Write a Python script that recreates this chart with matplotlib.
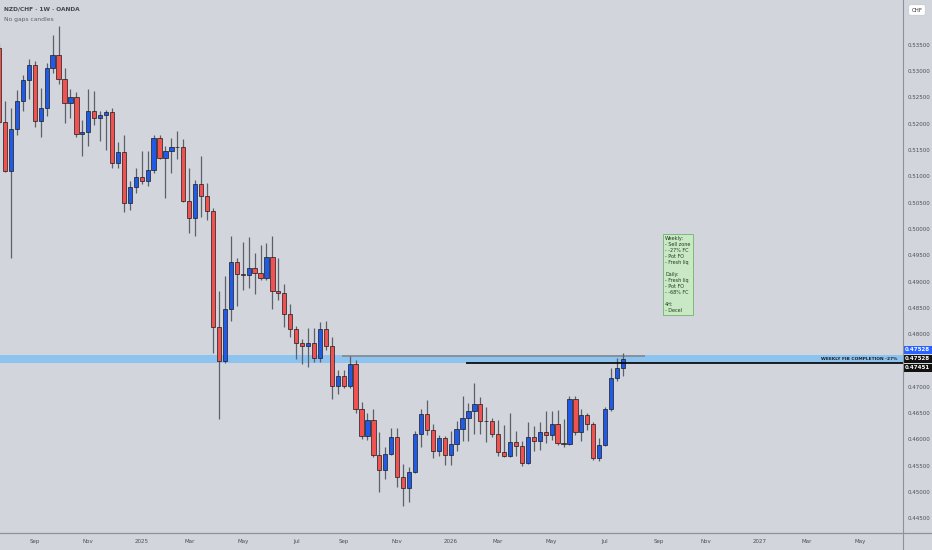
import matplotlib
matplotlib.use('Agg')
import matplotlib.pyplot as plt
import matplotlib.dates as mdates
import matplotlib.transforms as mtrans
from matplotlib.lines import Line2D
import numpy as np
import pandas as pd

# weekly NZD/CHF candles, first bar week of 2024-07-22
first_week = '2024-07-22'
opens = [
    .5343, .5204, .5111, .5190, .5243, .5284, .5312, .5206, .5229, .5305,
    .5330, .5285, .5239, .5250, .5180, .5185, .5224, .5211, .5217, .5222,
    .5125, .5146, .5050, .5080, .5098, .5091, .5112, .5173, .5135, .5149,
    .5156, .5155, .5054, .5020, .5085, .5062, .5035, .4814, .4748, .4848,
    .4938, .4914, .4913, .4926, .4916, .4906, .4946, .4882, .4878, .4839,
    .4810, .4783, .4778, .4783, .4755, .4810, .4777, .4702, .4720, .4702,
    .4744, .4658, .4607, .4637, .4571, .4541, .4572, .4605, .4529, .4508,
    .4537, .4611, .4648, .4617, .4578, .4602, .4570, .4591, .4619, .4640,
    .4653, .4667, .4635, .4634, .4611, .4576, .4568, .4594, .4588, .4555,
    .4605, .4597, .4613, .4609, .4630, .4593, .4591, .4676, .4613, .4646,
    .4629, .4565, .4589, .4658, .4716, .4736]
highs = [
    .5351, .5243, .5230, .5264, .5292, .5323, .5320, .5268, .5315, .5369,
    .5385, .5305, .5266, .5261, .5207, .5266, .5262, .5224, .5227, .5230,
    .5165, .5178, .5091, .5115, .5149, .5148, .5178, .5178, .5157, .5172,
    .5187, .5170, .5116, .5093, .5139, .5087, .5040, .4882, .4910, .4986,
    .4945, .4975, .4985, .4955, .4969, .4973, .4986, .4945, .4896, .4857,
    .4816, .4791, .4811, .4811, .4823, .4825, .4795, .4731, .4731, .4759,
    .4751, .4670, .4650, .4657, .4613, .4586, .4622, .4621, .4554, .4548,
    .4615, .4657, .4674, .4629, .4609, .4607, .4615, .4635, .4682, .4669,
    .4708, .4681, .4661, .4640, .4637, .4627, .4650, .4616, .4596, .4633,
    .4625, .4633, .4653, .4654, .4656, .4639, .4683, .4683, .4657, .4650,
    .4633, .4602, .4662, .4736, .4754, .4764]
lows = [
    .5200, .5109, .4944, .5178, .5224, .5247, .5194, .5175, .5214, .5297,
    .5275, .5201, .5211, .5175, .5139, .5157, .5198, .5167, .5150, .5115,
    .5115, .5033, .5036, .5069, .5085, .5082, .5107, .5132, .5058, .5106,
    .5132, .5052, .4992, .4987, .5023, .5017, .4765, .4638, .4745, .4824,
    .4853, .4884, .4888, .4876, .4903, .4902, .4848, .4865, .4814, .4795,
    .4753, .4743, .4737, .4747, .4747, .4770, .4676, .4686, .4697, .4697,
    .4650, .4600, .4599, .4567, .4500, .4524, .4571, .4510, .4474, .4480,
    .4536, .4586, .4609, .4564, .4568, .4552, .4552, .4578, .4596, .4596,
    .4611, .4610, .4594, .4605, .4568, .4566, .4566, .4568, .4550, .4554,
    .4578, .4580, .4593, .4599, .4589, .4586, .4589, .4609, .4596, .4617,
    .4560, .4558, .4588, .4653, .4710, .4720]
closes = [
    .5204, .5111, .5190, .5243, .5284, .5312, .5206, .5229, .5305, .5330,
    .5285, .5239, .5250, .5180, .5185, .5224, .5211, .5217, .5222, .5125,
    .5146, .5050, .5080, .5098, .5091, .5112, .5173, .5135, .5149, .5156,
    .5155, .5054, .5020, .5085, .5062, .5035, .4814, .4748, .4848, .4938,
    .4914, .4913, .4926, .4916, .4906, .4946, .4882, .4878, .4839, .4810,
    .4783, .4778, .4783, .4755, .4810, .4777, .4702, .4720, .4702, .4744,
    .4658, .4607, .4637, .4571, .4541, .4572, .4605, .4529, .4508, .4537,
    .4611, .4648, .4617, .4578, .4602, .4570, .4591, .4619, .4640, .4653,
    .4667, .4635, .4634, .4611, .4576, .4568, .4594, .4588, .4555, .4605,
    .4597, .4613, .4609, .4630, .4593, .4591, .4676, .4613, .4646, .4629,
    .4565, .4589, .4658, .4716, .4736, .4753]

# drawings
zone_low, zone_high = 0.4746, 0.4760
zone_text = 'WEEKLY FIB COMPLETION -27%'
gray_level, gray_from, gray_to = 0.4759, '2025-08-30', '2026-08-22'
black_level, black_from = 0.47451, '2026-01-23'
last_price = 0.47528
note = ("Weekly:\n- Sell zone\n- -27% FC\n- Pot FO\n- Fresh liq\n\n"
        "Daily:\n- Fresh liq\n- Pot FO\n- -68% FC\n\n4H:\n- Decel")

month_ticks = ['2024-09', '2024-11', '2025-01', '2025-03', '2025-05', '2025-07',
               '2025-09', '2025-11', '2026-01', '2026-03', '2026-05', '2026-07',
               '2026-09', '2026-11', '2027-01', '2027-03', '2027-05']
month_labels = ['Sep', 'Nov', '2025', 'Mar', 'May', 'Jul', 'Sep', 'Nov', '2026',
                'Mar', 'May', 'Jul', 'Sep', 'Nov', '2027', 'Mar', 'May']
price_ticks = [0.445, 0.450, 0.455, 0.460, 0.465, 0.470, 0.480, 0.485, 0.490,
               0.495, 0.500, 0.505, 0.510, 0.515, 0.520, 0.525, 0.530, 0.535]

bg = '#d2d5dc'
up_col = '#1f5be6'
dn_col = '#f05252'
txt_col = '#4a4e59'

o = np.array(opens)
h = np.array(highs)
l = np.array(lows)
c = np.array(closes)
x = mdates.date2num(pd.date_range(first_week, periods=len(c), freq='7D'))

fig = plt.figure(figsize=(9.32, 5.5), dpi=100, facecolor=bg)
ax = fig.add_axes([0, 17 / 550, 903 / 932, 533 / 550])
ax.set_facecolor(bg)

ax.axhspan(zone_low, zone_high, color='#8dc3ef', lw=0, zorder=1)
ax.hlines(gray_level, mdates.datestr2num(gray_from), mdates.datestr2num(gray_to),
          color='#86909a', lw=1.4, zorder=1.5)

ax.vlines(x, l, h, color='#5c606b', lw=0.9, zorder=2)
up = c >= o
ax.bar(x, np.abs(c - o), width=5, bottom=np.minimum(o, c),
       color=np.where(up, up_col, dn_col), edgecolor='#1b1b1b', linewidth=0.5, zorder=3)

xmin = mdates.datestr2num('2024-07-23')
xmax = mdates.datestr2num('2027-06-22')
ax.hlines(black_level, mdates.datestr2num(black_from), xmax, color='black', lw=1.2, zorder=4)

ax.set_xlim(xmin, xmax)
ax.set_ylim(0.44219, 0.54352)

both = mtrans.blended_transform_factory(ax.transAxes, ax.transData)
ax.text(0.9935, (zone_low + zone_high) / 2, zone_text, transform=both, ha='right',
        va='center', fontsize=3.2, fontweight='bold', color='#1c2030', zorder=5)

ax.text(665 / 903, 1 - 236 / 533, note, transform=ax.transAxes, ha='left', va='top',
        fontsize=3.5, linespacing=1.25, color='#1f3a1f', zorder=6,
        bbox=dict(boxstyle='square,pad=0.5', fc='#c9e8c4', ec='#6fb36f', lw=0.6))

# axes
tick_pos = []
for m in month_ticks:
    ts = pd.Timestamp(m)
    tick_pos.append(mdates.date2num(ts + pd.Timedelta(days=(7 - ts.weekday()) % 7)))
ax.set_xticks(tick_pos)
ax.set_xticklabels(month_labels)
ax.yaxis.tick_right()
ax.set_yticks(price_ticks)
ax.set_yticklabels(['%.5f' % p for p in price_ticks])
ax.tick_params(axis='x', length=0, pad=4.5, labelsize=4, labelcolor=txt_col)
ax.tick_params(axis='y', length=0, pad=3, labelsize=4, labelcolor=txt_col)
for s in ax.spines.values():
    s.set_visible(False)
ax.grid(False)

fig.add_artist(Line2D([903 / 932, 903 / 932], [0, 1], transform=fig.transFigure,
                      color='#8e929b', lw=0.8))
fig.add_artist(Line2D([0, 1], [17 / 550, 17 / 550], transform=fig.transFigure,
                      color='#8e929b', lw=0.9))

def price_tag(price, dy, fc, label):
    ax.annotate(label, xy=(1.0, price), xycoords=both, xytext=(2, dy),
                textcoords='offset pixels', ha='left', va='center', fontsize=4,
                color='white', fontweight='bold', annotation_clip=False, zorder=7,
                bbox=dict(boxstyle='square,pad=0.3', fc=fc, ec='none'))

price_tag(last_price, 9, '#2962ff', '%.5f' % last_price)
price_tag(last_price, 0, '#111111', '%.5f' % last_price)
price_tag(black_level, -5, '#111111', '%.5f' % black_level)

fig.text(917 / 932, 1 - 10 / 550, 'CHF', ha='center', va='center', fontsize=4,
         color='#333333',
         bbox=dict(boxstyle='round,pad=0.5,rounding_size=0.3', fc='white', ec='#c5c8cf', lw=0.5))

fig.text(4 / 932, 1 - 9 / 550, 'NZD/CHF · 1W · OANDA', fontsize=4.2, fontweight='bold',
         color='#434651', va='center')
fig.text(4 / 932, 1 - 20 / 550, 'No gaps candles', fontsize=4.3, color='#5d606b', va='center')

fig.savefig('out.png', dpi=100, facecolor=bg)
